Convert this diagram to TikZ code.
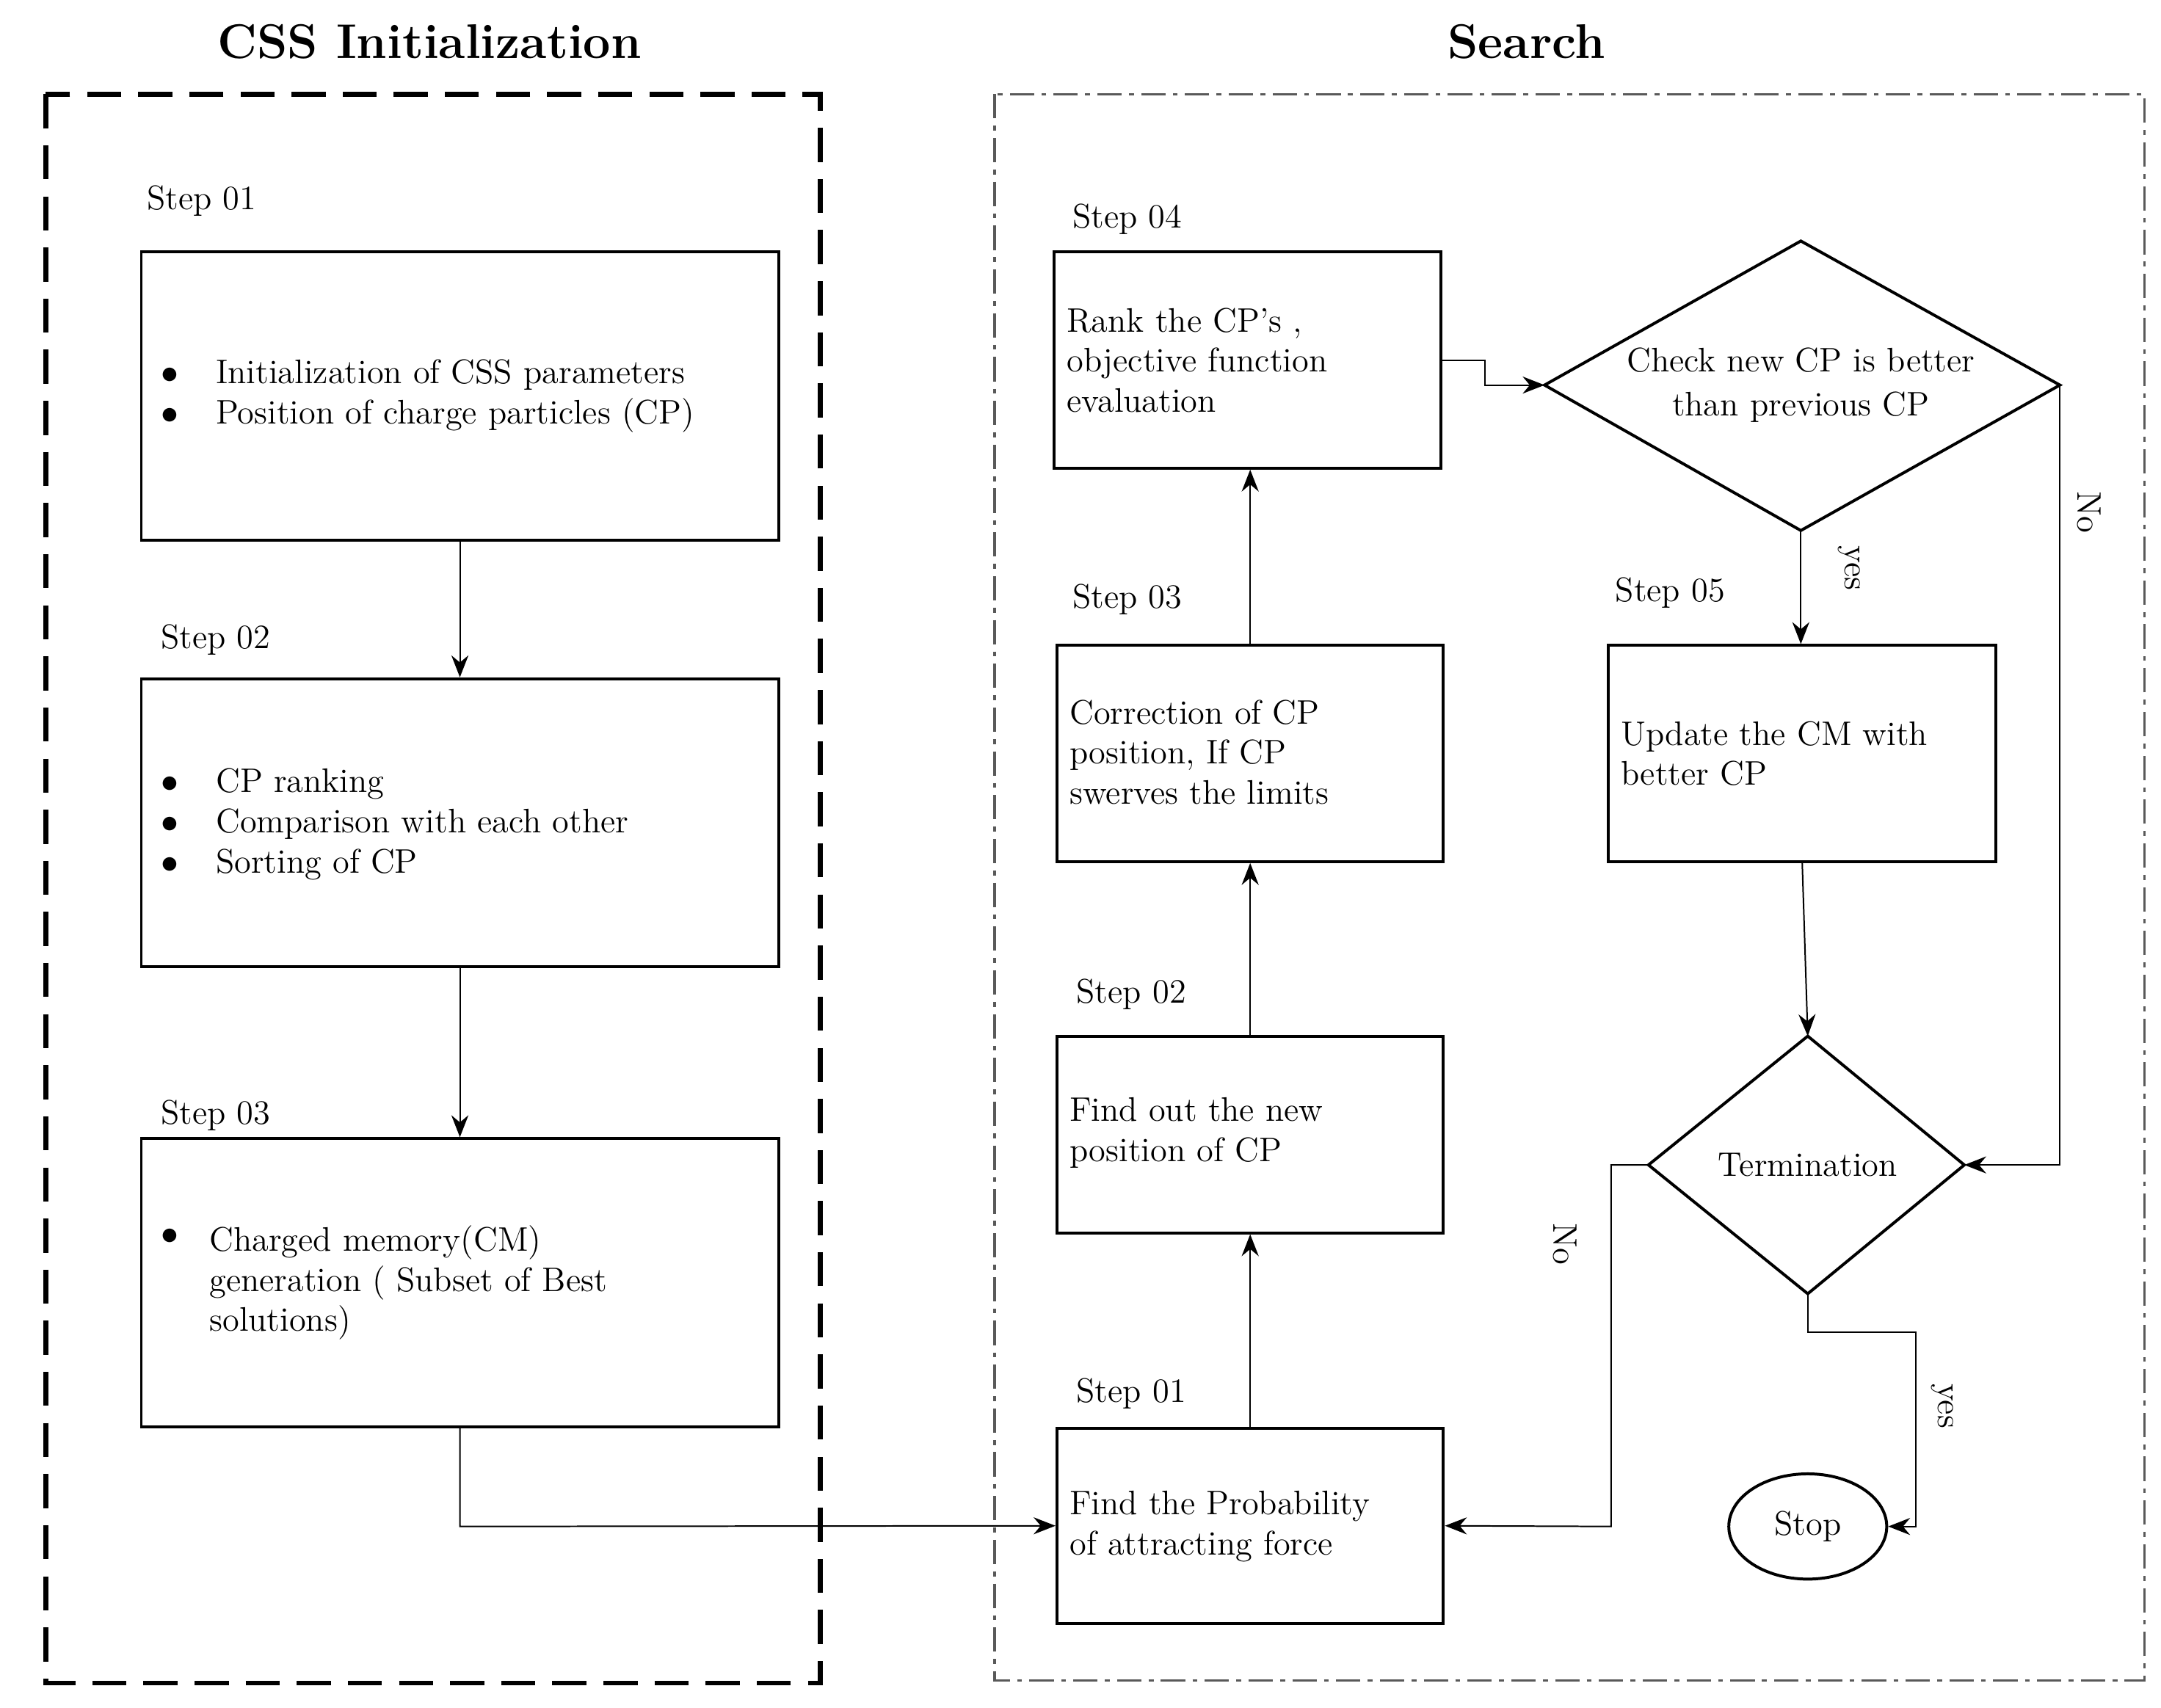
\documentclass[tikz,border=0pt]{standalone}
\usetikzlibrary{arrows.meta,shapes.geometric}
\begin{document}
\begin{tikzpicture}[x=0.02cm,y=-0.02cm,
  every node/.style={font=\fontsize{14}{18}\selectfont},
  box/.style={draw,line width=1.2pt,minimum width=#1,inner sep=0pt},
  lbl/.style={anchor=west,font=\fontsize{14}{18}\selectfont},
  txt/.style={anchor=west,align=left,font=\fontsize{14}{16.5}\selectfont},
  arr/.style={-{Stealth[length=9pt,width=7pt]},line width=0.6pt},
  title/.style={font=\fontsize{20}{24}\selectfont\bfseries}]
\useasboundingbox (0,0) rectangle (1560,1233);
\node[title] (t1) at (310,30) {CSS Initialization};
\node[title] (t2) at (1102,30) {Search};
\draw[line width=2pt,dash pattern=on 14pt off 7pt] (33,68) rectangle (592,1215);
\draw[line width=1pt,gray!70!black,dash pattern=on 10pt off 3pt on 2pt off 3pt] (718,68) rectangle (1548,1213);
% left
\node[lbl] (l1) at (100,145) {Step 01};
\node[box=460*0.02cm,minimum height=208*0.02cm] (b1) at (332,286) {};
\node[txt] (b1t) at (110,286) {$\bullet$\hspace{1.1em}Initialization of CSS parameters\\ $\bullet$\hspace{1.1em}Position of charge particles (CP)};
\node[lbl] (l2) at (110,462) {Step 02};
\node[box=460*0.02cm,minimum height=208*0.02cm] (b2) at (332,594) {};
\node[txt] (b2t) at (110,595) {$\bullet$\hspace{1.1em}CP ranking\\ $\bullet$\hspace{1.1em}Comparison with each other\\ $\bullet$\hspace{1.1em}Sorting of CP};
\node[lbl] (l3) at (110,805) {Step 03};
\node[box=460*0.02cm,minimum height=208*0.02cm] (b3) at (332,926) {};
\node[txt] (b3a) at (110,893) {$\bullet$};
\node[txt] (b3t) at (145,926) {Charged memory(CM)\\ generation ( Subset of Best\\ solutions)};
\draw[arr] (b1) -- (b2);
\draw[arr] (b2) -- (b3);
% right
\node[lbl] (s4) at (768,158) {Step 04};
\node[box=279*0.02cm,minimum height=156*0.02cm] (r4) at (900.5,260) {};
\node[txt] (r4t) at (764,260) {Rank the CP’s ,\\ objective function\\ evaluation};
\node[lbl] (s3) at (768,433) {Step 03};
\node[box=279*0.02cm,minimum height=156*0.02cm] (r3) at (902.5,544) {};
\node[txt] (r3t) at (766,543) {Correction of CP\\ position, If CP\\ swerves the limits};
\node[lbl] (s2) at (771,718) {Step 02};
\node[box=279*0.02cm,minimum height=142*0.02cm] (r2) at (902.5,819) {};
\node[txt] (r2t) at (766,818) {Find out the new\\ position of CP};
\node[lbl] (s1) at (771,1006) {Step 01};
\node[box=279*0.02cm,minimum height=141*0.02cm] (r1) at (902.5,1101.5) {};
\node[txt] (r1t) at (766,1102) {Find the Probability\\ of attracting force};
\node[lbl] (s5) at (1160,428) {Step 05};
\node[box=280*0.02cm,minimum height=156*0.02cm] (r5) at (1301,544) {};
\node[txt] (r5t) at (1164,544) {Update the CM with\\ better CP};
% diamonds
\coordinate (d1l) at (1115,278); \coordinate (d1r) at (1487,278);
\coordinate (d1t) at (1300,174); \coordinate (d1b) at (1300,383);
\draw[line width=1.2pt] (d1l) -- (d1t) -- (d1r) -- (d1b) -- cycle;
\node[align=center] (d1) at (1300,278) {Check new CP is better\\ than previous CP};
\coordinate (d2l) at (1190,841); \coordinate (d2r) at (1418,841);
\coordinate (d2t) at (1305,748); \coordinate (d2b) at (1305,934);
\draw[line width=1.2pt] (d2l) -- (d2t) -- (d2r) -- (d2b) -- cycle;
\node (d2) at (1305,841) {Termination};
\node[draw,ellipse,line width=1.2pt,minimum width=114*0.02cm,minimum height=76*0.02cm,inner sep=0pt] (stop) at (1305,1102) {Stop};
% connectors
\draw[arr] (b3.south) -- (332,1102) -- (r1.west);
\draw[arr] (r1) -- (r2);
\draw[arr] (r2) -- (r3);
\draw[arr] (r3.north) -- (r4.south -| r3.north);
\draw[arr] (r4.east |- 0,260) -- (1072,260) -- (1072,278) -- (d1l);
\draw[arr] (d1b) -- (r5.north -| d1b);
\node[rotate=-90] (yes1) at (1335,410) {yes};
\draw[arr] (r5.south) -- (d2t);
\draw[arr] (d1r) -- (1487,841) -- (d2r);
\node[rotate=-90] (no1) at (1508,370) {No};
\draw[arr] (d2l) -- (1163,841) -- (1163,1102) -- (r1.east);
\node[rotate=-90] (no2) at (1130,898) {No};
\draw[arr] (d2b) -- (1305,962) -- (1383,962) -- (1383,1102) -- (stop.east);
\node[rotate=-90] (yes2) at (1402,1015) {yes};
\end{tikzpicture}
\end{document}
